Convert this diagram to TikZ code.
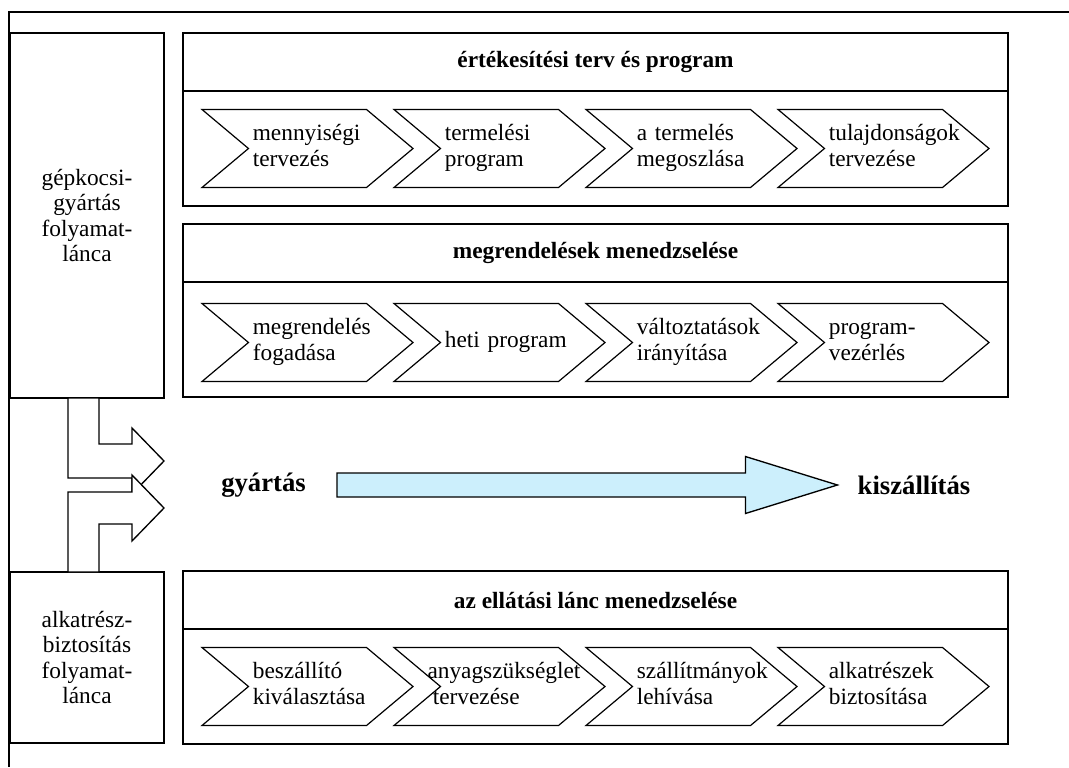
\documentclass[tikz,border=0pt]{standalone}
\usepackage{fontspec}
\setmainfont{Liberation Serif}
\usetikzlibrary{positioning, calc, shapes.symbols}

\begin{document}
\begin{tikzpicture}[x=0.75pt, y=-0.75pt,
  %% left side boxes
  sidebox/.style={
    rectangle, draw=black, line width=1.2pt, outer sep=0pt,
    minimum width=115.5pt, align=center, inner sep=0pt,
    font=\fontsize{17.5}{19}\selectfont
  },
  %% panel headers
  hdr/.style={
    rectangle, draw=black, line width=1.2pt, outer sep=0pt,
    minimum width=618.75pt, minimum height=43.5pt, inner sep=0pt,
    font=\bfseries\fontsize{17.5}{20}\selectfont
  },
  %% panel bodies
  pbody/.style={
    rectangle, draw=black, line width=1.2pt, outer sep=0pt,
    minimum width=618.75pt, minimum height=86.25pt, inner sep=0pt
  },
  %% process chevrons
  chev/.style={
    signal, signal from=west, signal to=east, signal pointer angle=80,
    draw=black, line width=0.9pt, fill=white,
    minimum width=158.25pt, minimum height=58.5pt,
    text width=82pt, align=left, inner sep=2pt,
    font=\fontsize{17.5}{19.5}\selectfont\strut,
    execute at end node=\strut
  },
  %% arrows
  bigarr/.style={draw=black, line width=1pt, fill=cyan!20},
  sidearr/.style={draw=black, line width=1pt, fill=white},
  %% flow labels
  lbl/.style={inner sep=0pt, font=\bfseries\fontsize{20}{24}\selectfont}
]

\useasboundingbox (0,0) rectangle (1069,767);

%% outer frame (open on the right and at the bottom)
\draw[line width=1.2pt] (1069,12) -- (9,12) -- (9,767);

%% ================================================================
%% LEFT COLUMN
%% ================================================================
\node[sidebox, minimum height=273.75pt] (side1) at (87,215.5) {
  gépkocsi-\\gyártás\\folyamat-\\lánca
};

\node[sidebox, minimum height=128.25pt] (side2) at (87,657.5) {
  alkatrész-\\biztosítás\\folyamat-\\lánca
};

%% ================================================================
%% PANEL 1 -- SALES PLAN
%% ================================================================
\node[hdr] (hdr1) at (595.5,62) {értékesítési terv és program};
\node[pbody, below=0pt of hdr1] (body1) {};

\node[chev] (c11) at ($(body1.west)+(124.5,0)$) {mennyiségi\\tervezés};
\node[chev] (c12) at ($(body1.west)+(316.5,0)$) {termelési\\program};
\node[chev] (c13) at ($(body1.west)+(508.5,0)$) {a termelés\\megoszlása};
\node[chev] (c14) at ($(body1.west)+(700.5,0)$) {tulajdonságok\\tervezése};

%% ================================================================
%% PANEL 2 -- ORDERS
%% ================================================================
\node[hdr] (hdr2) at (595.5,253) {megrendelések menedzselése};
\node[pbody, below=0pt of hdr2] (body2) {};

\node[chev] (c21) at ($(body2.west)+(124.5,3)$) {megrendelés\\fogadása};
\node[chev] (c22) at ($(body2.west)+(316.5,3)$) {\mbox{heti program}};
\node[chev] (c23) at ($(body2.west)+(508.5,3)$) {változtatások\\irányítása};
\node[chev] (c24) at ($(body2.west)+(700.5,3)$) {program-\\vezérlés};

%% ================================================================
%% MIDDLE -- PRODUCTION FLOW
%% ================================================================
\node[lbl] (gyartas) at (263.5,485) {gyártás};
\node[lbl] (kiszall) at (914,485) {kiszállítás};

\coordinate (arrs) at ($(gyartas.east)+(31,0)$);
\coordinate (arre) at ($(kiszall.west)+(-20,0)$);
\draw[bigarr] ($(arrs)+(0,-12)$) -- ($(arre)+(-92,-12)$) -- ($(arre)+(-92,-28.5)$)
  -- (arre) -- ($(arre)+(-92,28.5)$) -- ($(arre)+(-92,12)$) -- ($(arrs)+(0,12)$) -- cycle;

%% the two feeding arrows from the left column
\draw[sidearr] ([xshift=-14.25pt]side1.south) -- ++(0,80) -- ++(64,0) -- ++(0,16)
  -- ++(32,-33) -- ++(-32,-33) -- ++(0,16) -- ++(-33,0) -- ++(0,-46) -- cycle;
\draw[sidearr] ([xshift=-14.25pt]side2.north) -- ++(0,-80) -- ++(64,0) -- ++(0,-17)
  -- ++(32,33) -- ++(-32,33) -- ++(0,-17) -- ++(-33,0) -- ++(0,48) -- cycle;

%% ================================================================
%% PANEL 3 -- SUPPLY CHAIN
%% ================================================================
\node[hdr] (hdr3) at (595.5,600) {az ellátási lánc menedzselése};
\node[pbody, below=0pt of hdr3] (body3) {};

\node[chev] (c31) at ($(body3.west)+(124.5,0)$) {beszállító\\kiválasztása};
\node[chev] (c32) at ($(body3.west)+(316.5,0)$)
  {\hspace*{-13pt}\mbox{anyagszükséglet}\\\hspace*{-9pt}tervezése};
\node[chev] (c33) at ($(body3.west)+(508.5,0)$) {szállítmányok\\lehívása};
\node[chev] (c34) at ($(body3.west)+(700.5,0)$) {alkatrészek\\biztosítása};

\end{tikzpicture}
\end{document}
